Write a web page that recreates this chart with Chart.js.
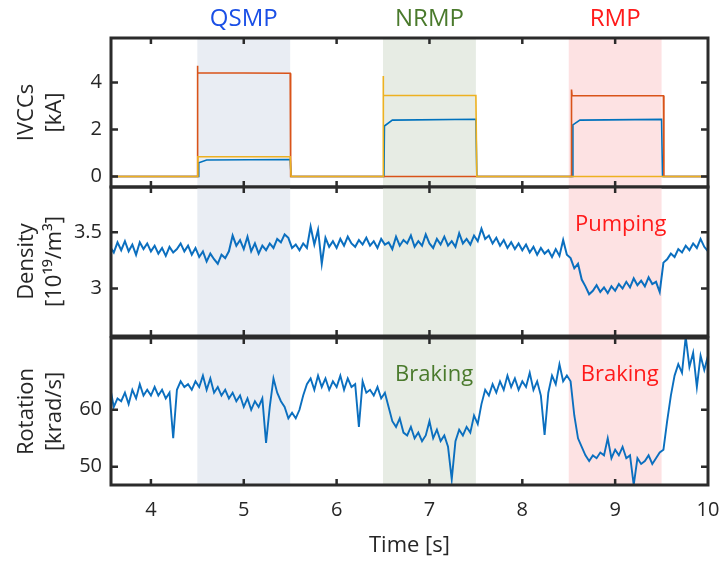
<!DOCTYPE html>
<html>
<head>
<meta charset="utf-8">
<title>IVCCs, density and rotation</title>
<script src="https://cdn.jsdelivr.net/npm/chart.js@4.4.1/dist/chart.umd.min.js"></script>
<style>
  html, body { margin: 0; padding: 0; background: #fff; }
  .wrap { position: relative; width: 721px; height: 562px; overflow: hidden; }
  .wrap canvas { position: absolute; left: 0; }
  #ivccChart { top: 0; }
  #densityChart { top: 184px; }
  #rotationChart { top: 334px; }
</style>
</head>
<body>
<div class="wrap">
  <canvas id="ivccChart" width="721" height="190"></canvas>
  <canvas id="densityChart" width="721" height="156"></canvas>
  <canvas id="rotationChart" width="721" height="228"></canvas>
</div>
<script>
// ---- data ----
const timeTicks = [4, 5, 6, 7, 8, 9, 10];
const ivccTicks = [0, 2, 4];
const densityTicks = [3, 3.5];
const rotationTicks = [50, 60];

const regionNames = ["QSMP", "NRMP", "RMP"];
const regionStart = [4.5, 6.5, 8.5];
const regionEnd = [5.5, 7.5, 9.5];

// coil currents [kA], step traces
const redTime = [3.5, 4.50, 4.50, 4.506, 5.50, 5.505, 8.53, 8.53, 8.536, 9.52, 9.525, 10.1];
const redKA   = [0,   0,    4.72, 4.42,  4.40, 0,     0,    3.70, 3.44,  3.44, 0,     0];

const yellowTime = [3.5, 4.50, 4.505, 5.50, 5.51, 6.50, 6.50, 6.506, 7.50, 7.51, 10.1];
const yellowKA   = [0,   0,    0.84,  0.84, 0,    0,    4.28, 3.45,  3.45, 0,    0];

const blueTime = [3.5, 4.51, 4.515, 4.60, 5.50, 5.51, 6.51, 6.515, 6.60, 7.50, 7.51, 8.54, 8.545, 8.62, 9.50, 9.51, 10.1];
const blueKA   = [0,   0,    0.58,  0.70, 0.72, 0,    0,    2.15,  2.40, 2.44, 0,    0,    2.20,  2.40, 2.43, 0,    0];

// density and rotation samples
const sampleTime = [
  3.56, 3.60, 3.64, 3.68, 3.72, 3.76, 3.80, 3.84, 3.88, 3.92,
  3.96, 4.00, 4.04, 4.08, 4.12, 4.16, 4.20, 4.24, 4.28, 4.32,
  4.36, 4.40, 4.44, 4.48, 4.52, 4.56, 4.60, 4.64, 4.68, 4.72,
  4.76, 4.80, 4.84, 4.88, 4.92, 4.96, 5.00, 5.04, 5.08, 5.12,
  5.16, 5.20, 5.24, 5.28, 5.32, 5.36, 5.40, 5.44, 5.48, 5.52,
  5.56, 5.60, 5.64, 5.68, 5.72, 5.76, 5.80, 5.84, 5.88, 5.92,
  5.96, 6.00, 6.04, 6.08, 6.12, 6.16, 6.20, 6.24, 6.28, 6.32,
  6.36, 6.40, 6.44, 6.48, 6.52, 6.56, 6.60, 6.64, 6.68, 6.72,
  6.76, 6.80, 6.84, 6.88, 6.92, 6.96, 7.00, 7.04, 7.08, 7.12,
  7.16, 7.20, 7.24, 7.28, 7.32, 7.36, 7.40, 7.44, 7.48, 7.52,
  7.56, 7.60, 7.64, 7.68, 7.72, 7.76, 7.80, 7.84, 7.88, 7.92,
  7.96, 8.00, 8.04, 8.08, 8.12, 8.16, 8.20, 8.24, 8.28, 8.32,
  8.36, 8.40, 8.44, 8.48, 8.52, 8.56, 8.60, 8.64, 8.68, 8.72,
  8.76, 8.80, 8.84, 8.88, 8.92, 8.96, 9.00, 9.04, 9.08, 9.12,
  9.16, 9.20, 9.24, 9.28, 9.32, 9.36, 9.40, 9.44, 9.48, 9.52,
  9.56, 9.60, 9.64, 9.68, 9.72, 9.76, 9.80, 9.84, 9.88, 9.92,
  9.96, 10.00
];

// 10^19 / m^3
const density = [
  3.37, 3.32, 3.41, 3.34, 3.42, 3.33, 3.39, 3.30, 3.41, 3.35,
  3.40, 3.33, 3.38, 3.31, 3.36, 3.29, 3.37, 3.32, 3.35, 3.40,
  3.33, 3.38, 3.30, 3.36, 3.28, 3.33, 3.24, 3.31, 3.26, 3.22,
  3.30, 3.27, 3.33, 3.47, 3.38, 3.43, 3.35, 3.46, 3.33, 3.40,
  3.31, 3.38, 3.34, 3.40, 3.36, 3.44, 3.41, 3.48, 3.45, 3.36,
  3.39, 3.34, 3.40, 3.36, 3.55, 3.39, 3.52, 3.22, 3.45, 3.37,
  3.42, 3.36, 3.44, 3.38, 3.46, 3.40, 3.37, 3.43, 3.39, 3.45,
  3.38, 3.42, 3.36, 3.44, 3.39, 3.41, 3.35, 3.46, 3.38, 3.43,
  3.40, 3.47, 3.37, 3.42, 3.38, 3.48, 3.40, 3.36, 3.44, 3.39,
  3.46, 3.38, 3.42, 3.37, 3.49, 3.40, 3.44, 3.39, 3.47, 3.42,
  3.53, 3.44, 3.47, 3.40, 3.45, 3.38, 3.43, 3.36, 3.41, 3.35,
  3.40, 3.34, 3.39, 3.32, 3.37, 3.30, 3.36, 3.31, 3.34, 3.28,
  3.35, 3.29, 3.43, 3.30, 3.27, 3.18, 3.22, 3.08, 3.02, 2.95,
  2.98, 3.03, 2.97, 3.01, 2.96, 3.02, 2.98, 3.04, 3.00, 3.06,
  3.01, 3.09, 3.03, 3.07, 3.02, 3.10, 3.04, 3.06, 2.97, 3.23,
  3.26, 3.31, 3.28, 3.35, 3.32, 3.38, 3.34, 3.40, 3.36, 3.44,
  3.37, 3.33
];

// krad/s
const rotation = [
  64.0, 60.5, 62.0, 61.5, 63.0, 61.0, 63.5, 62.0, 64.5, 62.5,
  63.5, 62.5, 64.0, 62.5, 63.5, 62.0, 63.0, 55.0, 63.5, 65.0,
  64.0, 64.5, 63.5, 65.0, 64.0, 66.0, 63.5, 65.5, 63.0, 64.0,
  62.5, 63.5, 62.0, 63.0, 61.5, 62.5, 60.5, 62.0, 60.0, 61.5,
  60.5, 62.0, 54.2, 60.5, 65.5, 63.0, 61.5, 60.5, 58.5, 59.5,
  58.5, 60.0, 62.5, 64.5, 65.5, 63.5, 66.0, 64.0, 65.5, 63.5,
  65.0, 64.0, 66.0, 63.5, 65.5, 64.0, 64.5, 57.0, 65.0, 63.0,
  63.5, 62.5, 64.0, 62.0, 63.0, 60.5, 58.0, 57.0, 58.5, 56.0,
  55.5, 57.0, 55.0, 56.0, 54.5, 55.5, 58.0, 55.0, 56.5, 54.5,
  55.5, 53.5, 47.8, 54.5, 56.5, 55.5, 57.0, 56.0, 59.0, 57.5,
  61.0, 63.5, 62.5, 64.5, 63.0, 65.0, 63.5, 66.0, 64.0, 65.5,
  63.5, 65.0, 64.0, 66.5, 63.5, 65.0, 62.5, 55.6, 63.0, 66.0,
  64.5, 68.0, 65.0, 66.0, 65.0, 59.0, 55.0, 53.5, 52.0, 51.0,
  52.0, 51.5, 52.5, 52.0, 55.0, 51.5, 53.0, 52.0, 53.5, 51.5,
  52.0, 46.8, 51.5, 50.5, 51.0, 52.0, 50.5, 51.5, 52.5, 53.0,
  58.0, 62.5, 66.0, 68.0, 66.5, 72.8, 67.5, 70.0, 64.0, 69.5,
  67.0, 69.5
];

// ---- styles ----
const fontFamily = "'Open Sans', 'DejaVu Sans', sans-serif";
const textColor = "#262626";
const frameColor = "#2b2b2b";
const regionFill = ["#e9edf3", "#e7ece4", "#fde2e3"];
const regionText = ["#1a4fe6", "#4a7a2c", "#ff1a1a"];
const traceBlue = "#0b6fbf";
const plotWidth = 597;   // 111 .. 708 px

const toPoints = (xs, ys) => xs.map((x, i) => ({ x: x, y: ys[i] }));

// shaded windows, box frame with inward ticks, text notes
const panelPlugin = {
  id: "panel",
  beforeDatasetsDraw(chart) {
    const { ctx, chartArea: a, scales: { x } } = chart;
    ctx.save();
    regionStart.forEach((s, i) => {
      const x0 = x.getPixelForValue(s);
      const x1 = x.getPixelForValue(regionEnd[i]);
      ctx.fillStyle = regionFill[i];
      ctx.fillRect(x0, a.top, x1 - x0, a.bottom - a.top);
    });
    ctx.restore();
  },
  afterDraw(chart, args, opts) {
    const { ctx, chartArea: a, scales: { x, y } } = chart;
    ctx.save();
    ctx.strokeStyle = frameColor;
    ctx.lineWidth = 2.5;
    ctx.beginPath();
    timeTicks.forEach(t => {
      const px = x.getPixelForValue(t);
      if (px > a.right - 3) return;
      ctx.moveTo(px, a.bottom); ctx.lineTo(px, a.bottom - 6);
      ctx.moveTo(px, a.top); ctx.lineTo(px, a.top + 6);
    });
    opts.yTicks.forEach(v => {
      const py = y.getPixelForValue(v);
      ctx.moveTo(a.left, py); ctx.lineTo(a.left + 7, py);
      ctx.moveTo(a.right, py); ctx.lineTo(a.right - 7, py);
    });
    ctx.stroke();
    ctx.lineWidth = 3;
    ctx.strokeRect(a.left, a.top, a.right - a.left, a.bottom - a.top);

    ctx.textAlign = "center";
    ctx.textBaseline = "middle";
    if (opts.header) {
      ctx.font = "24px " + fontFamily;
      regionNames.forEach((name, i) => {
        ctx.fillStyle = regionText[i];
        ctx.fillText(name, x.getPixelForValue((regionStart[i] + regionEnd[i]) / 2), a.top - 19);
      });
    }
    ctx.font = "22px " + fontFamily;
    (opts.notes || []).forEach(n => {
      ctx.fillStyle = n.color;
      ctx.fillText(n.text, x.getPixelForValue(n.x), y.getPixelForValue(n.y));
    });
    ctx.restore();
  }
};

const makeChart = (id, datasets, yMin, yMax, yTicks, yTitle, showX, padding, panelOpts) => {
  return new Chart(document.getElementById(id), {
    type: "line",
    data: { datasets: datasets },
    options: {
      responsive: false,
      animation: false,
      layout: { padding: padding },
      elements: { point: { radius: 0 }, line: { tension: 0 } },
      plugins: {
        legend: { display: false },
        tooltip: { enabled: false },
        panel: panelOpts
      },
      scales: {
        x: {
          type: "linear",
          min: 3.57,
          max: 10,
          display: showX,
          afterBuildTicks: s => { s.ticks = timeTicks.map(v => ({ value: v })); },
          afterFit: s => {
            // keep the same plot width in all three panels
            s.paddingLeft = 0;
            s.paddingRight = 0;
            s.width = plotWidth;
            if (showX) s.height = 77;
          },
          grid: { display: false, drawTicks: false },
          border: { display: false },
          ticks: { color: textColor, font: { family: fontFamily, size: 20 }, padding: 13, maxRotation: 0, autoSkip: false },
          title: { display: showX, text: "Time [s]", color: textColor, font: { family: fontFamily, size: 22 }, padding: { top: 0, bottom: 3 } }
        },
        y: {
          min: yMin,
          max: yMax,
          afterBuildTicks: s => { s.ticks = yTicks.map(v => ({ value: v })); },
          afterFit: s => {
            s.width = 111;
            s.paddingTop = 0;
            s.paddingBottom = 0;
          },
          grid: { display: false, drawTicks: false },
          border: { display: false },
          ticks: { color: textColor, font: { family: fontFamily, size: 20 }, padding: 9, callback: v => String(v) },
          title: { display: true, text: yTitle, color: textColor, font: { family: fontFamily, size: 22, lineHeight: 1.25 }, padding: { top: 13, bottom: 0 } }
        }
      }
    },
    plugins: [panelPlugin]
  });
};

const ivccLine = (pts, color, order) => ({
  data: pts, borderColor: color, borderWidth: 1.6, order: order
});

makeChart("ivccChart", [
  ivccLine(toPoints(yellowTime, yellowKA), "#edb120", 1),
  ivccLine(toPoints(redTime, redKA), "#d95319", 2),
  ivccLine(toPoints(blueTime, blueKA), "#0072bd", 3)
], -0.45, 5.9, ivccTicks, ["IVCCs", "[kA]"], false,
  { top: 38, bottom: 3, right: 13 }, { yTicks: ivccTicks, header: true });

makeChart("densityChart", [
  { data: toPoints(sampleTime, density), borderColor: traceBlue, borderWidth: 2 }
], 2.58, 3.9, densityTicks, ["Density", "[10\u00b9\u2079/m\u00b3]"], false,
  { top: 3, bottom: 4, right: 13 },
  { yTicks: densityTicks, notes: [{ text: "Pumping", x: 9.06, y: 3.57, color: regionText[2] }] });

makeChart("rotationChart", [
  { data: toPoints(sampleTime, rotation), borderColor: traceBlue, borderWidth: 1.9 }
], 46.8, 72.6, rotationTicks, ["Rotation", "[krad/s]"], true,
  { top: 4, bottom: 0, right: 13 },
  { yTicks: rotationTicks, notes: [
    { text: "Braking", x: 7.05, y: 66.1, color: regionText[1] },
    { text: "Braking", x: 9.05, y: 66.1, color: regionText[2] }
  ] });
</script>
</body>
</html>
